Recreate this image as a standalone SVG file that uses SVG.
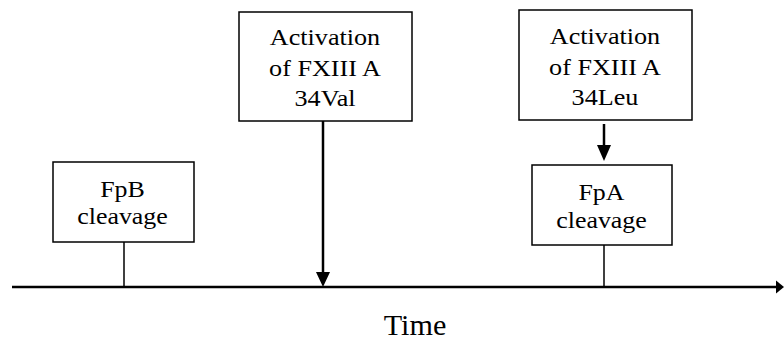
<svg xmlns="http://www.w3.org/2000/svg" width="784" height="343" viewBox="0 0 784 343">
<style>
.box{fill:#fff;stroke:#000;stroke-width:1.5}
.ln{stroke:#000;fill:none}
.hd{fill:#000}
text{font-family:"Liberation Serif","Times New Roman",serif;font-size:24px;fill:#000;text-anchor:middle}
</style>
<rect width="784" height="343" fill="#fff"/>
<g id="connectors">
<line class="ln" x1="12" y1="287" x2="778" y2="287" stroke-width="2.5"/>
<path class="hd" d="M776,280.5 L784,287 L776,293.5 Z"/>
<line class="ln" x1="124" y1="242" x2="124" y2="287" stroke-width="1.5"/>
<line class="ln" x1="323" y1="120" x2="323" y2="274" stroke-width="2.5"/>
<path class="hd" d="M316,272 L330,272 L323,287 Z"/>
<line class="ln" x1="604" y1="124" x2="604" y2="147" stroke-width="2.5"/>
<path class="hd" d="M597,145 L611,145 L604,161 Z"/>
<line class="ln" x1="604" y1="245" x2="604" y2="287" stroke-width="1.5"/>
</g>
<g id="fpb">
<rect class="box" x="53" y="162" width="141" height="80"/>
<text transform="translate(122.5,197) scale(1.08,1)">FpB</text>
<text transform="translate(122.5,224) scale(1.08,1)">cleavage</text>
</g>
<g id="act-val">
<rect class="box" x="239" y="12" width="173" height="109"/>
<text transform="translate(325,45) scale(1.09,1)">Activation</text>
<text transform="translate(325,76) scale(1.09,1)">of FXIII A</text>
<text transform="translate(325,106) scale(1.09,1)">34Val</text>
</g>
<g id="act-leu">
<rect class="box" x="519" y="10" width="173" height="110"/>
<text transform="translate(605,44) scale(1.09,1)">Activation</text>
<text transform="translate(605,75) scale(1.09,1)">of FXIII A</text>
<text transform="translate(605,105) scale(1.09,1)">34Leu</text>
</g>
<g id="fpa">
<rect class="box" x="532" y="165" width="140" height="80"/>
<text transform="translate(601.5,200) scale(1.08,1)">FpA</text>
<text transform="translate(601.5,228) scale(1.08,1)">cleavage</text>
</g>
<text transform="translate(415,335) scale(1.04,1)" style="font-size:29px">Time</text>
</svg>
